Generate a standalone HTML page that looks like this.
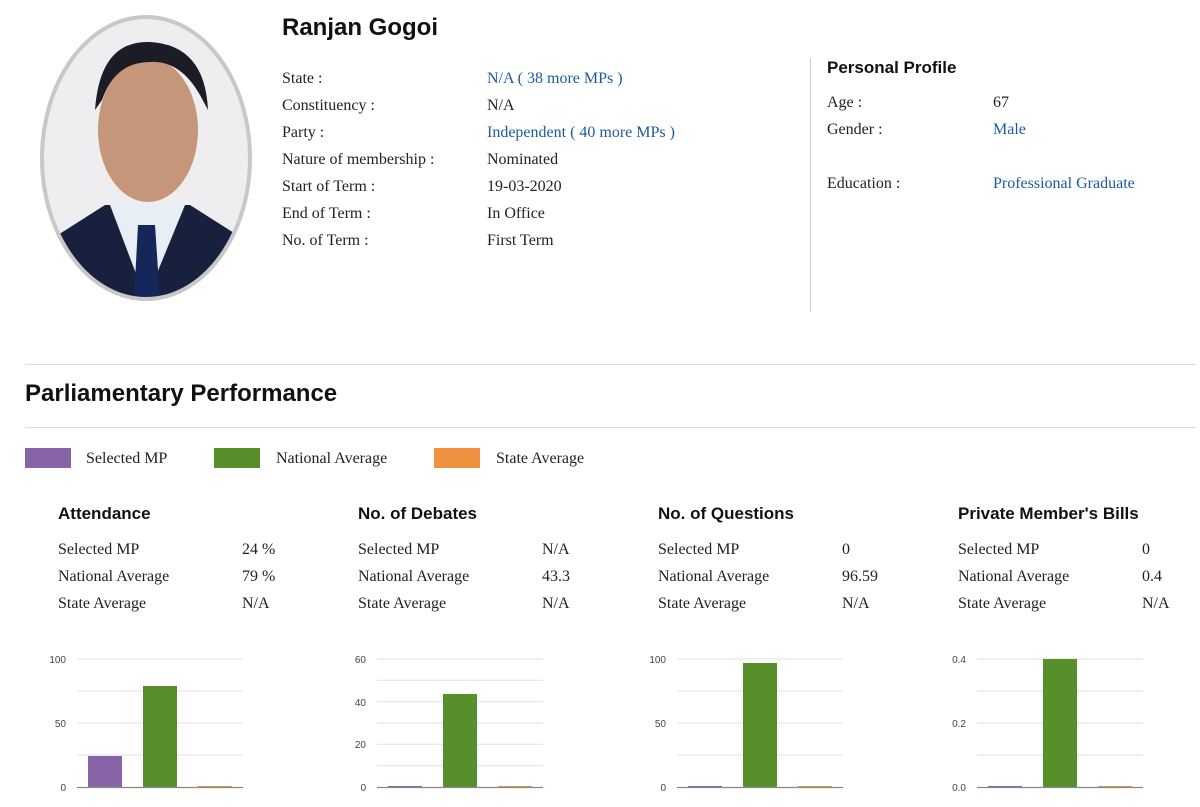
<!DOCTYPE html>
<html><head><style>
body{margin:0;width:1200px;height:807px;background:#fff;position:relative;overflow:hidden;font-family:"Liberation Serif",serif;color:#222}
.a{position:absolute;white-space:nowrap}
.s{font-size:16px;line-height:16px}
.h{font-family:"Liberation Sans",sans-serif;font-weight:bold;color:#111}
.b{color:#1d5a9c}
.sw{position:absolute;width:46px;height:20px;top:448px}
</style></head><body>
<svg class="a" style="left:0;top:0" width="270" height="310">
<defs><clipPath id="c"><ellipse cx="146" cy="158" rx="104" ry="141"/></clipPath></defs>
<g clip-path="url(#c)">
<rect width="270" height="310" fill="#eeeef0"/>
<path d="M50 240 L105 205 L190 205 L245 240 L250 310 L40 310Z" fill="#17203c"/>
<path d="M110 205 L146 300 L185 205Z" fill="#e8eef6"/>
<path d="M138 225 L155 225 L160 300 L134 300Z" fill="#15265a"/>
<ellipse cx="148" cy="130" rx="50" ry="72" fill="#c6967a"/>
<path d="M95 110 Q100 40 150 42 Q205 45 208 110 L200 95 Q180 60 150 62 Q115 62 102 100Z" fill="#1c1c26"/>
</g>
<ellipse cx="146" cy="158" rx="104" ry="141" fill="none" stroke="#c8c8c8" stroke-width="4"/>
</svg>
<div class="a h" style="left:282px;top:14px;font-size:24px">Ranjan Gogoi</div>
<div class="a s" style="left:282px;top:65px;line-height:27px">State :<br>Constituency :<br>Party :<br>Nature of membership :<br>Start of Term :<br>End of Term :<br>No. of Term :</div>
<div class="a s" style="left:487px;top:65px;line-height:27px"><span class="b">N/A ( 38 more MPs )</span><br>N/A<br><span class="b">Independent ( 40 more MPs )</span><br>Nominated<br>19-03-2020<br>In Office<br>First Term</div>
<div class="a" style="left:810px;top:58px;width:1px;height:254px;background:#ccc"></div>
<div class="a h" style="left:827px;top:58px;font-size:17px">Personal Profile</div>
<div class="a s" style="left:827px;top:89px;line-height:27px">Age :<br>Gender :<br><br>Education :</div>
<div class="a s" style="left:993px;top:89px;line-height:27px">67<br><span class="b">Male</span><br><br><span class="b">Professional Graduate</span></div>
<div class="a" style="left:25px;top:364px;width:1170px;height:1px;background:#ddd"></div>
<div class="a h" style="left:25px;top:380px;font-size:24px">Parliamentary Performance</div>
<div class="a" style="left:25px;top:427px;width:1170px;height:1px;background:#ddd"></div>
<div class="sw" style="left:25px;background:#8664a6"></div><div class="a s" style="left:86px;top:451px">Selected MP</div>
<div class="sw" style="left:214px;background:#57902a"></div><div class="a s" style="left:276px;top:451px">National Average</div>
<div class="sw" style="left:434px;background:#f0913f"></div><div class="a s" style="left:496px;top:451px">State Average</div>

<div class="a h" style="left:58px;top:504px;font-size:17px">Attendance</div>
<div class="a h" style="left:358px;top:504px;font-size:17px">No. of Debates</div>
<div class="a h" style="left:658px;top:504px;font-size:17px">No. of Questions</div>
<div class="a h" style="left:958px;top:504px;font-size:17px">Private Member's Bills</div>
<div class="a s" style="left:58px;top:536px;line-height:27px">Selected MP<br>National Average<br>State Average</div>
<div class="a s" style="left:242px;top:536px;line-height:27px">24 %<br>79 %<br>N/A</div>
<div class="a s" style="left:358px;top:536px;line-height:27px">Selected MP<br>National Average<br>State Average</div>
<div class="a s" style="left:542px;top:536px;line-height:27px">N/A<br>43.3<br>N/A</div>
<div class="a s" style="left:658px;top:536px;line-height:27px">Selected MP<br>National Average<br>State Average</div>
<div class="a s" style="left:842px;top:536px;line-height:27px">0<br>96.59<br>N/A</div>
<div class="a s" style="left:958px;top:536px;line-height:27px">Selected MP<br>National Average<br>State Average</div>
<div class="a s" style="left:1142px;top:536px;line-height:27px">0<br>0.4<br>N/A</div>

<svg class="a" style="left:0;top:0" width="1200" height="807" font-family="Liberation Sans,sans-serif" font-size="10" fill="#444">
<g stroke="#e2e2e2" stroke-width="1">
<path d="M77 659H243M77 691H243M77 723H243M77 755H243"/>
<path d="M377 659H543M377 680.3H543M377 701.7H543M377 723H543M377 744.3H543M377 765.7H543"/>
<path d="M677 659H843M677 691H843M677 723H843M677 755H843"/>
<path d="M977 659H1143M977 691H1143M977 723H1143M977 755H1143"/>
</g>
<g text-anchor="end">
<text x="66" y="663">100</text><text x="66" y="727">50</text><text x="66" y="791">0</text>
<text x="366" y="663">60</text><text x="366" y="706">40</text><text x="366" y="748">20</text><text x="366" y="791">0</text>
<text x="666" y="663">100</text><text x="666" y="727">50</text><text x="666" y="791">0</text>
<text x="966" y="663">0.4</text><text x="966" y="727">0.2</text><text x="966" y="791">0.0</text>
</g>
<rect x="88" y="756" width="34" height="31" fill="#8664a6"/>
<rect x="143" y="686" width="34" height="101" fill="#57902a"/>
<rect x="443" y="694" width="34" height="93" fill="#57902a"/>
<rect x="743" y="663" width="34" height="124" fill="#57902a"/>
<rect x="1043" y="659" width="34" height="128" fill="#57902a"/>
<g fill="#8664a6"><rect x="388" y="786" width="34" height="1"/><rect x="688" y="786" width="34" height="1"/><rect x="988" y="786" width="34" height="1"/></g>
<g fill="#f0913f"><rect x="198" y="786" width="34" height="1"/><rect x="498" y="786" width="34" height="1"/><rect x="798" y="786" width="34" height="1"/><rect x="1098" y="786" width="34" height="1"/></g>
<g stroke="#888" stroke-width="1.2"><path d="M77 787.5H243M377 787.5H543M677 787.5H843M977 787.5H1143"/></g>
</svg>
</body></html>
